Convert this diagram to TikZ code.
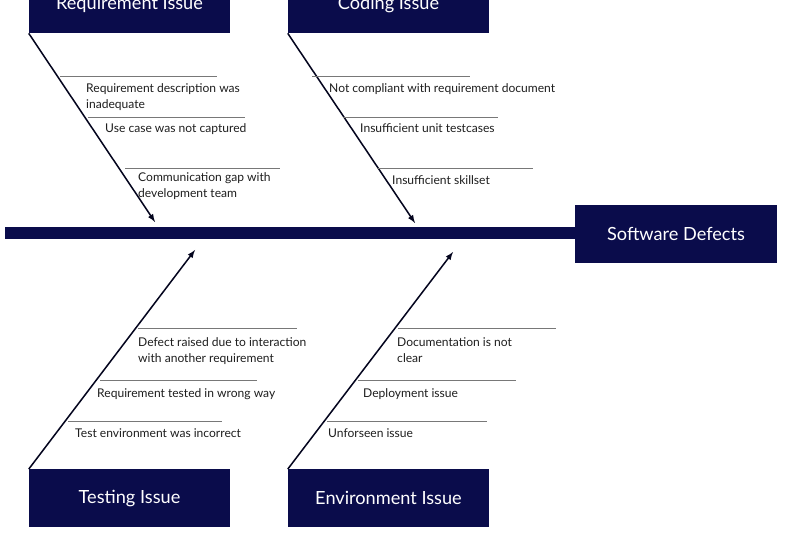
\documentclass[tikz,border=0pt]{standalone}
\usepackage{fontspec}
\setmainfont{Lato}
\usepackage{tikz}
\usetikzlibrary{positioning,arrows}

\definecolor{navy}{RGB}{10,12,75}
\definecolor{ribgray}{RGB}{120,120,120}
\definecolor{txtgray}{RGB}{30,30,30}

\begin{document}
\begin{tikzpicture}[x=0.03cm,y=-0.03cm]
	\tikzset{
		issue/.style={fill=navy,text=white,minimum width=6.03cm,minimum height=1.72cm,
			inner sep=0pt,font=\fontsize{15.5}{18}\selectfont},
		cause/.style={anchor=north west,inner sep=0pt,align=left,text=txtgray,
			font=\fontsize{10.3}{13.6}\selectfont},
		bone/.style={->,>=latex,line width=1.3pt,navy!40!black},
		rib/.style={ribgray,line width=0.6pt}
	}
	\path[use as bounding box,clip] (0,0) rectangle (786,540);
	% categories and effect
	\node[issue] (req) at (129.5,4.5) {Requirement Issue};
	\node[issue] (cod) at (388.5,4.5) {Coding Issue};
	\node[issue] (tst) at (129.5,498) {Testing Issue};
	\node[issue] (env) at (388.5,498) {Environment Issue};
	\node[issue,minimum width=6.06cm,minimum height=1.74cm] (eff) at (676,234) {Software Defects};
	% spine
	\coordinate (tail) at (5,233);
	\draw[navy,line width=9.4pt] (tail) -- (tail -| eff.west);
	% bones
	\coordinate (reqhit) at (155,222);
	\coordinate (codhit) at (415,223);
	\coordinate (tsthit) at (195,250);
	\coordinate (envhit) at (453,252);
	\draw[bone] (req.south west) -- (reqhit);
	\draw[bone] (cod.south west) -- (codhit);
	\draw[bone] (tst.north west) -- (tsthit);
	\draw[bone] (env.north west) -- (envhit);
	% ribs
	\foreach \xa/\xb/\y in {60/217/76, 88/245/117, 125/280/168,
		312/470/76, 343/498/117, 377/533/168,
		138/297/328, 100/257/380, 68/222/421,
		398/556/328, 358/516/380, 327/487/421}
		\draw[rib] (\xa,\y) -- (\xb,\y);
	% causes
	\node[cause] (r1) at (86,83) {Requirement description was\\inadequate};
	\node[cause] (r2) at (105,123) {Use case was not captured};
	\node[cause] (r3) at (138,172) {Communication gap with\\development team};
	\node[cause] (c1) at (329,83) {Not compliant with requirement document};
	\node[cause] (c2) at (360,123) {Insufficient unit testcases};
	\node[cause] (c3) at (392,175) {Insufficient skillset};
	\node[cause] (t1) at (138,337) {Defect raised due to interaction\\with another requirement};
	\node[cause] (t2) at (97,388) {Requirement tested in wrong way};
	\node[cause] (t3) at (75,428) {Test environment was incorrect};
	\node[cause] (e1) at (397,337) {Documentation is not\\clear};
	\node[cause] (e2) at (363,388) {Deployment issue};
	\node[cause] (e3) at (328,428) {Unforseen issue};
\end{tikzpicture}
\end{document}
